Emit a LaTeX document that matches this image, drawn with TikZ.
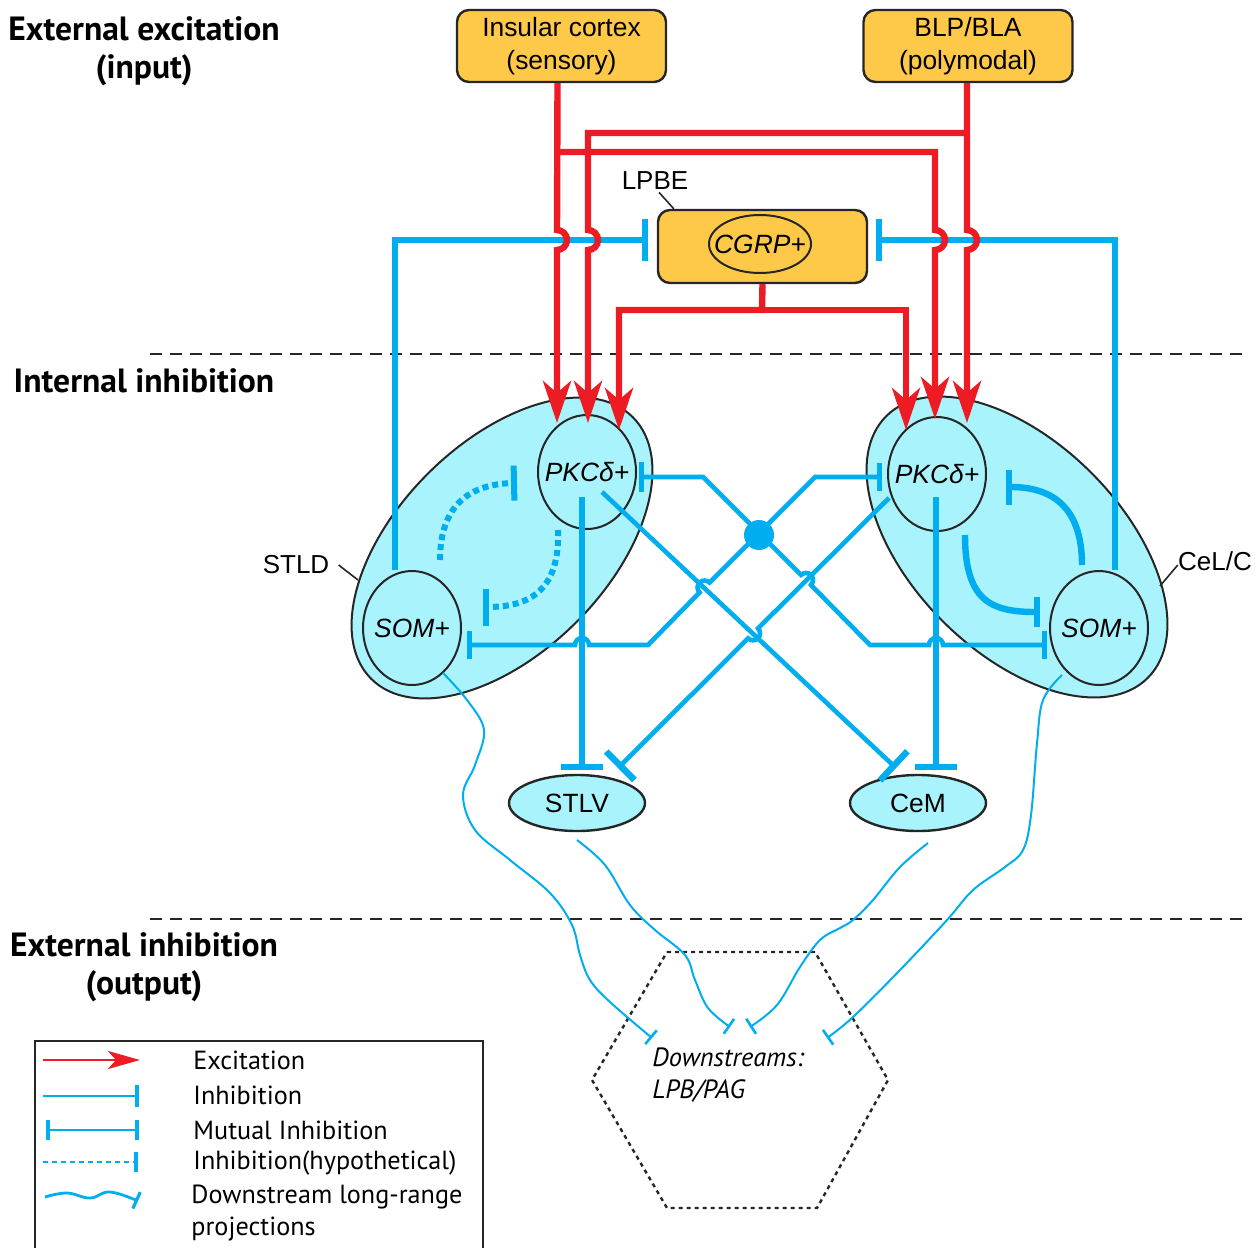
\documentclass[tikz,border=0pt]{standalone}
\usepackage{fontspec}
\setmainfont{Liberation Sans}
\newfontfamily\myriad{PT Sans}
\usetikzlibrary{arrows.meta,shapes.geometric}
\definecolor{exred}{RGB}{237,28,36}
\definecolor{inblue}{RGB}{0,174,239}
\definecolor{cellcyan}{RGB}{168,243,252}
\definecolor{boxorange}{RGB}{254,200,72}
\begin{document}
\begin{tikzpicture}[x=0.5pt,y=-0.5pt,
  box/.style={draw=black!85, line width=1.2pt, fill=boxorange, rounded corners=6pt, minimum width=104.5pt, minimum height=36pt, align=center, font=\fontsize{13.2}{16.5}\selectfont, inner sep=0pt},
  region/.style={ellipse, draw=black!85, line width=1pt, fill=cellcyan, minimum width=185pt, minimum height=105pt, inner sep=0pt},
  cell/.style={ellipse, draw=black!85, line width=1pt, fill=cellcyan, minimum width=49pt, minimum height=57pt, inner xsep=-10pt, inner ysep=0pt, font=\fontsize{13.2}{15}\selectfont\itshape},
  target/.style={ellipse, draw=black!85, line width=1.2pt, fill=cellcyan, minimum width=68pt, minimum height=28pt, inner xsep=-4pt, inner ysep=0pt, font=\fontsize{13.2}{15}\selectfont},
  lab/.style={font=\fontsize{13}{15}\selectfont, inner sep=1pt},
  leader/.style={black!85, line width=0.8pt},
  exc/.style={exred, line width=3.2pt, -{Stealth[length=21pt,width=14pt,inset=6pt]}},
  inh/.style={inblue, line width=3.2pt, -{Bar[width=21pt]}},
  xinh/.style={inblue, line width=2.3pt},
  hypo/.style={inblue, line width=3pt, dash pattern=on 3pt off 2pt},
  proj/.style={inblue, line width=1pt, -{Bar[width=9pt,line width=1.3pt]}},
  sep/.style={black!85, line width=1pt, dash pattern=on 6pt off 4pt},
  title/.style={font=\myriad\bfseries\fontsize{16.8}{19}\selectfont, align=center, inner sep=0pt},
  legtext/.style={font=\myriad\fontsize{13.1}{16}\selectfont, anchor=west, inner sep=0pt},
]
\useasboundingbox (0,0) rectangle (1256,1247);

% titles
\node[title] (t1) at (144,51) {External excitation\\(input)};
\node[title] (t2) at (144,381) {Internal inhibition};
\node[title] (t3) at (144,967) {External inhibition\\(output)};

% separators
\draw[sep] (150,354) -- (1245,354);
\draw[sep] (150,919) -- (1245,919);

% input boxes
\node[box] (ins) at (561.5,46) {Insular cortex\\(sensory)};
\node[box] (blp) at (968,46) {BLP/BLA\\(polymodal)};
\node[box, minimum height=36.5pt] (lpbe) at (762.5,246.5) {};
\node[ellipse, draw=black!85, line width=1pt, minimum width=51pt, minimum height=29pt, inner xsep=-10pt, inner ysep=0pt, font=\fontsize{13.2}{15}\selectfont\itshape] (cgrp) at (760,244) {CGRP+};
\node[lab] (lpbelab) at (655,181) {LPBE};
\draw[leader] ([xshift=2pt]lpbelab.south) -- ([xshift=8.5pt]lpbe.north west);

% regions
\node[region, rotate=45] (stld) at (502,548) {};
\node[region, rotate=-45] (cel) at (1017,547) {};
\node[lab] (stldlab) at (296,565) {STLD};
\draw[leader] ([xshift=3.5pt]stldlab.east) -- (358,580);
\node[lab] (cellab) at (1215,561) {CeL/C};
\draw[leader] ([xshift=1pt,yshift=-2pt]cellab.west) -- (1160,586);

% cells
\node[cell] (lpkc) at (587,472) {PKCδ+};
\node[cell] (lsom) at (412,628) {SOM+};
\node[cell] (rpkc) at (937,474) {PKCδ+};
\node[cell] (rsom) at (1099,628) {SOM+};

% targets
\node[target] (stlv) at (577,803) {STLV};
\node[target] (cem) at (918,803) {CeM};

% hub
\node[circle, fill=inblue, minimum size=15pt, inner sep=0pt] (hub) at (759,535) {};

% SOM -> CGRP inhibition
\draw[inh] ([xshift=-8.5pt]lsom.north) -- (395,240) -- (648,240);
\draw[inh] ([xshift=8pt]rsom.north) -- (1115,240) -- (876,240);

% PKC -> targets
\draw[inh] ([xshift=-2.5pt,yshift=-12.5pt]lpkc.center) -- (582,770);
\draw[inh] ([xshift=-0.5pt,yshift=-11.5pt]rpkc.center) -- (936,770);
\draw[xinh, -{Bar[width=20pt,line width=3.2pt]}] ([xshift=7.5pt,yshift=-10pt]lpkc.center) -- (896,768);
\draw[xinh, -{Bar[width=20pt,line width=3.2pt]}] ([xshift=-24pt,yshift=-12pt]rpkc.center) -- (758,628.4) arc[start angle=315, delta angle=180, radius=7] -- (618,768);

% cross mutual inhibition
\draw[xinh, {Bar[width=15pt,line width=2.6pt]}-{Bar[width=14pt,line width=2.6pt]}] ([xshift=1pt,yshift=-2.5pt]lpkc.east) -- (703,477) -- (801,575) arc[start angle=225, delta angle=180, radius=7] -- (870,645) -- (929,645) arc[start angle=180, delta angle=180, radius=7] -- ([xshift=-1pt,yshift=-8.5pt]rsom.west);
\draw[xinh, {Bar[width=14pt,line width=2.6pt]}-{Bar[width=14pt,line width=2.6pt]}] ([xshift=-2.5pt,yshift=-1.5pt]rpkc.west) -- (815,477) -- (709.45,582.55) arc[start angle=315, delta angle=-180, radius=7] -- (648,645) -- (589,645) arc[start angle=0, delta angle=-180, radius=7] -- ([xshift=2.5pt,yshift=-8.5pt]lsom.east);

% local inhibition in CeL/C
\draw[inblue, line width=3.2pt, -{Bar[width=17.5pt]}] (1082,565) .. controls (1082,505) and (1050,487) .. (1006,487);
\draw[inblue, line width=3.2pt, -{Bar[width=15pt]}] (965,535) .. controls (965,600) and (990,612) .. (1040,612);

% hypothetical inhibition in STLD
\draw[hypo, -{Bar[width=17.5pt]}] (440,560) .. controls (440,505) and (470,484) .. (517,483);
\draw[hypo, -{Bar[width=18.5pt]}] (558,530) .. controls (560,590) and (530,607) .. (483,607);

% red excitation
\draw[exc] ([xshift=-2pt]ins.south) -- (557,230) arc[start angle=270, delta angle=180, radius=10] -- (557,423);
\draw[exc] ([xshift=-0.5pt]blp.south) -- (967,230) arc[start angle=270, delta angle=180, radius=10] -- (967,423);
\draw[exc] (967,133) -- (588,133) -- (588,230) arc[start angle=270, delta angle=180, radius=10] -- (588,423);
\draw[exc] (557,152) -- (935,152) -- (935,230) arc[start angle=270, delta angle=180, radius=10] -- (935,419);
\draw[exc] (lpbe.south) -- (762,310) -- (619,310) -- (619,430);
\draw[exc] (762,310) -- (906,310) -- (906,430);

% downstream target
\draw[black!85, line width=1.2pt, dash pattern=on 2pt off 2pt] (667,952) -- (815,952) -- (888,1080) -- (817,1208) -- (667,1208) -- (592,1080) -- cycle;
\node[font=\myriad\itshape\fontsize{13.2}{16}\selectfont, align=left, anchor=north west, inner sep=0pt] (down) at (652,1047) {Downstreams:\\LPB/PAG};

% long-range projections
\draw[proj] plot[smooth, tension=0.6] coordinates {(443,673) (467,700) (484,730) (475,765) (463,795) (475,830) (510,860) (550,893) (572,925) (580,955) (590,980) (610,1002) (652,1038)};
\draw[proj] plot[smooth, tension=0.6] coordinates {(577,840) (605,865) (630,905) (655,930) (685,955) (695,980) (708,1008) (730,1027)};
\draw[proj] plot[smooth, tension=0.6] coordinates {(928,843) (900,867) (873,900) (853,920) (840,928) (820,940) (800,967) (777,1005) (750,1027)};
\draw[proj] plot[smooth, tension=0.6] coordinates {(1062,675) (1043,700) (1037,743) (1031,815) (1023,850) (1005,867) (973,890) (947,920) (900,970) (853,1017) (827,1038)};

% legend
\draw[black!85, line width=1.2pt] (35,1260) -- (35,1041) -- (483,1041) -- (483,1260);
\draw[exred, line width=1.2pt, -{Stealth[length=16pt,width=9pt,inset=4pt]}] (43,1060) -- (140,1060);
\node[legtext] (l1) at (193,1060) {Excitation};
\draw[inblue, line width=1.4pt, -{Bar[width=11pt,line width=2pt]}] (43,1096) -- (139,1096);
\node[legtext] (l2) at (193,1095) {Inhibition};
\draw[inblue, line width=1.4pt, {Bar[width=10pt,line width=2pt]}-{Bar[width=10pt,line width=2pt]}] (46,1130) -- (139,1130);
\node[legtext] (l3) at (193,1130) {Mutual Inhibition};
\draw[inblue, line width=1.4pt, dash pattern=on 2.5pt off 2pt, -{Bar[width=10pt,line width=2pt]}] (43,1162) -- (138,1162);
\node[legtext] (l4) at (193,1163) {Inhibition(hypothetical)};
\draw[inblue, line width=1.4pt, -{Bar[width=9pt,line width=1.6pt]}] plot[smooth, tension=0.7] coordinates {(45,1197) (67,1193) (90,1198) (110,1192) (138,1201)};
\node[legtext] (l5) at (191,1197) {Downstream long-range};
\node[legtext] (l6) at (191,1229) {projections};
\end{tikzpicture}
\end{document}
